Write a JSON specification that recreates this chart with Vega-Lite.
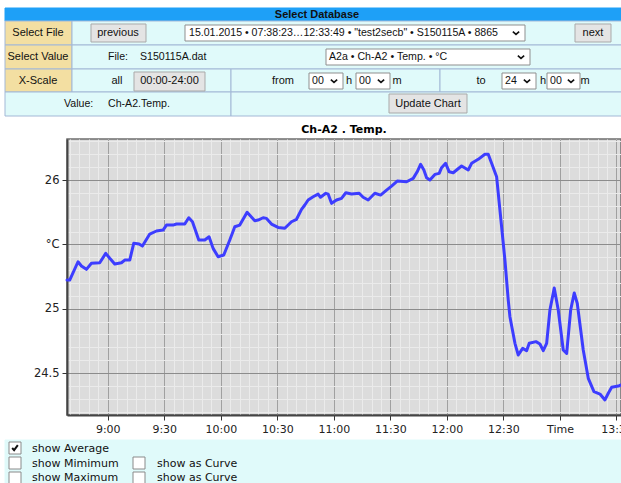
{
  "$schema": "https://vega.github.io/schema/vega-lite/v6.json",
  "autosize": {"type": "none"},
  "padding": {"left": 67, "top": 0, "right": 554, "bottom": 483},
  "background": "white",
  "bounds": "flush",
  "spacing": 25,
  "resolve": {"scale": {"fill": "independent", "stroke": "independent", "x": "independent", "y": "independent"}},
  "config": {
    "view": {"stroke": null},
    "text": {"font": "Liberation Sans", "fontSize": 11, "color": "#111", "baseline": "middle"}
  },
  "datasets": {
    "cells": [
      {"kind": "banner", "l": 5, "r": 629, "t": 8, "b": 21},
      {"kind": "label", "l": 5, "r": 72, "t": 21, "b": 45},
      {"kind": "label", "l": 5, "r": 72, "t": 45, "b": 69},
      {"kind": "label", "l": 5, "r": 72, "t": 69, "b": 92},
      {"kind": "cell", "l": 72, "r": 629, "t": 21, "b": 45},
      {"kind": "cell", "l": 72, "r": 629, "t": 45, "b": 69},
      {"kind": "cell", "l": 72, "r": 231, "t": 69, "b": 92},
      {"kind": "cell", "l": 231, "r": 440, "t": 69, "b": 92},
      {"kind": "cell", "l": 440, "r": 629, "t": 69, "b": 92},
      {"kind": "cell", "l": 5, "r": 231, "t": 92, "b": 116},
      {"kind": "cell", "l": 231, "r": 629, "t": 92, "b": 116},
      {"kind": "button", "l": 91, "r": 146, "t": 24, "b": 42},
      {"kind": "select", "l": 185, "r": 525, "t": 25, "b": 41},
      {"kind": "button", "l": 575, "r": 611, "t": 24, "b": 42},
      {"kind": "select", "l": 326, "r": 530, "t": 49, "b": 65},
      {"kind": "button", "l": 134, "r": 205, "t": 72, "b": 91},
      {"kind": "select", "l": 309, "r": 343, "t": 73, "b": 89},
      {"kind": "select", "l": 356, "r": 390, "t": 73, "b": 89},
      {"kind": "select", "l": 502, "r": 536, "t": 73, "b": 89},
      {"kind": "select", "l": 547, "r": 580, "t": 73, "b": 89},
      {"kind": "button", "l": 389, "r": 467, "t": 94, "b": 113}
    ],
    "formText": [
      {"text": "Select Database", "x": 317, "y": 14.5, "role": "bold"},
      {"text": "Select File", "x": 38, "y": 33, "role": "center"},
      {"text": "previous", "x": 118, "y": 33, "role": "center"},
      {"text": "15.01.2015 • 07:38:23…12:33:49 • \"test2secb\" • S150115A • 8865", "x": 189, "y": 33, "role": "left"},
      {"text": "next", "x": 593, "y": 33, "role": "center"},
      {"text": "Select Value", "x": 38, "y": 57, "role": "center"},
      {"text": "File:", "x": 108, "y": 57, "role": "left"},
      {"text": "S150115A.dat", "x": 140, "y": 57, "role": "left"},
      {"text": "A2a • Ch-A2 • Temp. • °C", "x": 329, "y": 57, "role": "left"},
      {"text": "X-Scale", "x": 38, "y": 80.5, "role": "center"},
      {"text": "all", "x": 117, "y": 80.5, "role": "center"},
      {"text": "00:00-24:00", "x": 169.5, "y": 81, "role": "center"},
      {"text": "from", "x": 283, "y": 80.5, "role": "center"},
      {"text": "00", "x": 312, "y": 81, "role": "left"},
      {"text": "h", "x": 349, "y": 80.5, "role": "center"},
      {"text": "00", "x": 359, "y": 81, "role": "left"},
      {"text": "m", "x": 397, "y": 80.5, "role": "center"},
      {"text": "to", "x": 481, "y": 80.5, "role": "center"},
      {"text": "24", "x": 505, "y": 81, "role": "left"},
      {"text": "h", "x": 543, "y": 80.5, "role": "center"},
      {"text": "00", "x": 550, "y": 81, "role": "left"},
      {"text": "m", "x": 585, "y": 80.5, "role": "center"},
      {"text": "Value:", "x": 64, "y": 104, "role": "left"},
      {"text": "Ch-A2.Temp.", "x": 108, "y": 104, "role": "left"},
      {"text": "Update Chart", "x": 428, "y": 104, "role": "center"}
    ],
    "chevrons": [
      {"x": 516, "y": 33}, {"x": 521, "y": 57}, {"x": 334, "y": 81},
      {"x": 381, "y": 81}, {"x": 527, "y": 81}, {"x": 571, "y": 81}
    ],
    "panel": [
      {"kind": "panel", "l": 5, "r": 629, "t": 440, "b": 490},
      {"kind": "box", "l": 9, "r": 21, "t": 442, "b": 454},
      {"kind": "box", "l": 9, "r": 21, "t": 457, "b": 469},
      {"kind": "box", "l": 133, "r": 145, "t": 457, "b": 469},
      {"kind": "box", "l": 9, "r": 21, "t": 472, "b": 484},
      {"kind": "box", "l": 133, "r": 145, "t": 472, "b": 484}
    ],
    "options": [
      {"text": "show Average", "x": 32, "y": 449},
      {"text": "show Mimimum", "x": 32, "y": 463.5},
      {"text": "show as Curve", "x": 157, "y": 463.5},
      {"text": "show Maximum", "x": 32, "y": 478},
      {"text": "show as Curve", "x": 157, "y": 478}
    ],
    "checked": [{"x": 15, "y": 448}],
    "temperature": [
      {"t": "2015-01-15T08:38:23", "v": 25.223},
      {"t": "2015-01-15T08:39:49", "v": 25.223},
      {"t": "2015-01-15T08:44:14", "v": 25.365},
      {"t": "2015-01-15T08:46:02", "v": 25.332},
      {"t": "2015-01-15T08:48:41", "v": 25.306},
      {"t": "2015-01-15T08:51:21", "v": 25.353},
      {"t": "2015-01-15T08:55:45", "v": 25.357},
      {"t": "2015-01-15T08:58:56", "v": 25.430},
      {"t": "2015-01-15T09:01:04", "v": 25.392},
      {"t": "2015-01-15T09:03:43", "v": 25.347},
      {"t": "2015-01-15T09:07:16", "v": 25.357},
      {"t": "2015-01-15T09:09:02", "v": 25.378},
      {"t": "2015-01-15T09:11:41", "v": 25.378},
      {"t": "2015-01-15T09:13:48", "v": 25.508},
      {"t": "2015-01-15T09:16:37", "v": 25.503},
      {"t": "2015-01-15T09:18:25", "v": 25.487},
      {"t": "2015-01-15T09:22:18", "v": 25.580},
      {"t": "2015-01-15T09:25:51", "v": 25.604},
      {"t": "2015-01-15T09:29:22", "v": 25.611},
      {"t": "2015-01-15T09:31:10", "v": 25.650},
      {"t": "2015-01-15T09:34:40", "v": 25.650},
      {"t": "2015-01-15T09:36:29", "v": 25.658},
      {"t": "2015-01-15T09:40:53", "v": 25.658},
      {"t": "2015-01-15T09:43:00", "v": 25.707},
      {"t": "2015-01-15T09:44:58", "v": 25.676},
      {"t": "2015-01-15T09:48:19", "v": 25.534},
      {"t": "2015-01-15T09:51:30", "v": 25.534},
      {"t": "2015-01-15T09:53:47", "v": 25.559},
      {"t": "2015-01-15T09:55:55", "v": 25.469},
      {"t": "2015-01-15T09:58:34", "v": 25.404},
      {"t": "2015-01-15T10:01:35", "v": 25.417},
      {"t": "2015-01-15T10:04:47", "v": 25.534},
      {"t": "2015-01-15T10:07:26", "v": 25.637},
      {"t": "2015-01-15T10:10:05", "v": 25.650},
      {"t": "2015-01-15T10:13:58", "v": 25.749},
      {"t": "2015-01-15T10:18:03", "v": 25.684},
      {"t": "2015-01-15T10:19:48", "v": 25.689},
      {"t": "2015-01-15T10:22:28", "v": 25.707},
      {"t": "2015-01-15T10:24:16", "v": 25.702},
      {"t": "2015-01-15T10:26:55", "v": 25.658},
      {"t": "2015-01-15T10:30:25", "v": 25.632},
      {"t": "2015-01-15T10:33:59", "v": 25.625},
      {"t": "2015-01-15T10:37:32", "v": 25.676},
      {"t": "2015-01-15T10:40:11", "v": 25.695},
      {"t": "2015-01-15T10:42:51", "v": 25.772},
      {"t": "2015-01-15T10:44:36", "v": 25.806},
      {"t": "2015-01-15T10:46:21", "v": 25.845},
      {"t": "2015-01-15T10:49:01", "v": 25.870},
      {"t": "2015-01-15T10:51:40", "v": 25.891},
      {"t": "2015-01-15T10:52:56", "v": 25.866},
      {"t": "2015-01-15T10:55:45", "v": 25.897},
      {"t": "2015-01-15T10:56:58", "v": 25.891},
      {"t": "2015-01-15T10:58:47", "v": 25.819},
      {"t": "2015-01-15T11:01:26", "v": 25.845},
      {"t": "2015-01-15T11:04:05", "v": 25.858},
      {"t": "2015-01-15T11:06:22", "v": 25.901},
      {"t": "2015-01-15T11:09:24", "v": 25.891},
      {"t": "2015-01-15T11:13:26", "v": 25.897},
      {"t": "2015-01-15T11:15:33", "v": 25.866},
      {"t": "2015-01-15T11:18:13", "v": 25.845},
      {"t": "2015-01-15T11:21:46", "v": 25.897},
      {"t": "2015-01-15T11:24:48", "v": 25.883},
      {"t": "2015-01-15T11:27:59", "v": 25.922},
      {"t": "2015-01-15T11:30:38", "v": 25.953},
      {"t": "2015-01-15T11:33:37", "v": 25.992},
      {"t": "2015-01-15T11:38:36", "v": 25.987},
      {"t": "2015-01-15T11:42:07", "v": 26.013},
      {"t": "2015-01-15T11:44:14", "v": 26.064},
      {"t": "2015-01-15T11:46:02", "v": 26.122},
      {"t": "2015-01-15T11:47:47", "v": 26.078},
      {"t": "2015-01-15T11:49:13", "v": 26.018},
      {"t": "2015-01-15T11:50:58", "v": 26.000},
      {"t": "2015-01-15T11:53:38", "v": 26.044},
      {"t": "2015-01-15T11:55:55", "v": 26.052},
      {"t": "2015-01-15T11:57:11", "v": 26.096},
      {"t": "2015-01-15T11:59:19", "v": 26.130},
      {"t": "2015-01-15T12:01:13", "v": 26.064},
      {"t": "2015-01-15T12:03:21", "v": 26.057},
      {"t": "2015-01-15T12:05:09", "v": 26.078},
      {"t": "2015-01-15T12:07:48", "v": 26.109},
      {"t": "2015-01-15T12:11:19", "v": 26.078},
      {"t": "2015-01-15T12:13:07", "v": 26.130},
      {"t": "2015-01-15T12:16:37", "v": 26.161},
      {"t": "2015-01-15T12:20:11", "v": 26.200},
      {"t": "2015-01-15T12:21:56", "v": 26.200},
      {"t": "2015-01-15T12:23:44", "v": 26.130},
      {"t": "2015-01-15T12:26:23", "v": 26.026},
      {"t": "2015-01-15T12:27:37", "v": 25.845},
      {"t": "2015-01-15T12:29:02", "v": 25.637},
      {"t": "2015-01-15T12:30:48", "v": 25.378},
      {"t": "2015-01-15T12:32:33", "v": 25.068},
      {"t": "2015-01-15T12:33:27", "v": 24.938},
      {"t": "2015-01-15T12:36:07", "v": 24.731},
      {"t": "2015-01-15T12:37:52", "v": 24.640},
      {"t": "2015-01-15T12:40:12", "v": 24.692},
      {"t": "2015-01-15T12:42:19", "v": 24.674},
      {"t": "2015-01-15T12:43:42", "v": 24.731},
      {"t": "2015-01-15T12:47:16", "v": 24.744},
      {"t": "2015-01-15T12:49:23", "v": 24.726},
      {"t": "2015-01-15T12:51:08", "v": 24.674},
      {"t": "2015-01-15T12:52:56", "v": 24.731},
      {"t": "2015-01-15T12:54:41", "v": 24.990},
      {"t": "2015-01-15T12:56:58", "v": 25.161},
      {"t": "2015-01-15T12:59:06", "v": 24.990},
      {"t": "2015-01-15T13:01:45", "v": 24.679},
      {"t": "2015-01-15T13:03:34", "v": 24.653},
      {"t": "2015-01-15T13:05:41", "v": 24.990},
      {"t": "2015-01-15T13:07:35", "v": 25.122},
      {"t": "2015-01-15T13:09:11", "v": 25.042},
      {"t": "2015-01-15T13:12:22", "v": 24.679},
      {"t": "2015-01-15T13:15:02", "v": 24.459},
      {"t": "2015-01-15T13:18:03", "v": 24.355},
      {"t": "2015-01-15T13:21:14", "v": 24.337},
      {"t": "2015-01-15T13:23:53", "v": 24.291},
      {"t": "2015-01-15T13:25:39", "v": 24.343},
      {"t": "2015-01-15T13:27:27", "v": 24.389},
      {"t": "2015-01-15T13:30:58", "v": 24.399},
      {"t": "2015-01-15T13:32:24", "v": 24.407}
    ]
  },
  "vconcat": [
    {
      "width": 554,
      "height": 114,
      "layer": [
        {
          "data": {"name": "cells"},
          "mark": {"type": "rect", "strokeWidth": 1},
          "encoding": {
            "x": {"field": "l", "type": "quantitative", "scale": {"domain": [67, 621], "nice": false, "zero": false}, "axis": null},
            "x2": {"field": "r"},
            "y": {"field": "t", "type": "quantitative", "scale": {"domain": [0, 114], "reverse": true, "nice": false, "zero": false}, "axis": null},
            "y2": {"field": "b"},
            "fill": {"field": "kind", "type": "nominal", "legend": null,
              "scale": {"domain": ["banner", "label", "cell", "button", "select"], "range": ["#1ea0f7", "#f3dfa2", "#e0fafa", "#e4e4e4", "#ffffff"]}},
            "stroke": {"field": "kind", "type": "nominal", "legend": null,
              "scale": {"domain": ["banner", "label", "cell", "button", "select"], "range": ["#1ea0f7", "#a3b8d6", "#a3b8d6", "#a9a9a9", "#8f8f8f"]}}
          }
        },
        {
          "data": {"name": "formText"},
          "transform": [{"filter": "datum.role == 'bold'"}],
          "mark": {"type": "text", "fontWeight": "bold", "fontSize": 11, "align": "center"},
          "encoding": {
            "x": {"field": "x", "type": "quantitative"},
            "y": {"field": "y", "type": "quantitative"},
            "text": {"field": "text"}
          }
        },
        {
          "data": {"name": "formText"},
          "transform": [{"filter": "datum.role == 'center'"}],
          "mark": {"type": "text", "align": "center"},
          "encoding": {
            "x": {"field": "x", "type": "quantitative"},
            "y": {"field": "y", "type": "quantitative"},
            "text": {"field": "text"}
          }
        },
        {
          "data": {"name": "formText"},
          "transform": [{"filter": "datum.role == 'left'"}],
          "mark": {"type": "text", "align": "left", "fontSize": 10.6},
          "encoding": {
            "x": {"field": "x", "type": "quantitative"},
            "y": {"field": "y", "type": "quantitative"},
            "text": {"field": "text"}
          }
        },
        {
          "data": {"name": "chevrons"},
          "mark": {"type": "point", "shape": "M-1,-0.45L0,0.45L1,-0.45", "filled": false, "size": 40, "stroke": "#111", "strokeWidth": 1.6, "opacity": 1},
          "encoding": {
            "x": {"field": "x", "type": "quantitative"},
            "y": {"field": "y", "type": "quantitative"}
          }
        }
      ]
    },
    {
      "width": 554,
      "height": 276,
      "title": {"text": "Ch-A2 . Temp.", "anchor": "middle", "font": "DejaVu Sans", "fontSize": 11, "fontWeight": "bold", "color": "#000", "offset": 4},
      "view": {"fill": "#dcdcdc", "stroke": "#6e6e6e", "strokeWidth": 1.5},
      "data": {"name": "temperature"},
      "layer": [
        {
          "mark": {"type": "line", "strokeOpacity": 0},
          "encoding": {
            "x": {"field": "t", "type": "temporal",
              "scale": {"domain": [{"year": 2015, "month": 1, "date": 15, "hours": 8, "minutes": 38, "seconds": 23}, {"year": 2015, "month": 1, "date": 15, "hours": 13, "minutes": 32, "seconds": 24}], "nice": false},
              "axis": {"orient": "top", "title": null, "labels": false, "ticks": false, "domain": false, "grid": true, "gridColor": "#ebebeb", "gridWidth": 1, "tickCount": 59}},
            "y": {"field": "v", "type": "quantitative",
              "scale": {"domain": [24.174, 26.319], "nice": false, "zero": false},
              "axis": {"orient": "right", "title": null, "labels": false, "ticks": false, "domain": false, "grid": true, "gridColor": "#ebebeb", "gridWidth": 1,
                "values": [24.2, 24.3, 24.4, 24.6, 24.7, 24.8, 24.9, 25.1, 25.2, 25.3, 25.4, 25.6, 25.7, 25.8, 25.9, 26.1, 26.2, 26.3]}}
          }
        },
        {
          "mark": {"type": "line", "color": "#3d3dff", "strokeWidth": 3, "strokeJoin": "round", "strokeCap": "round"},
          "encoding": {
            "x": {"field": "t", "type": "temporal",
              "axis": {"orient": "bottom", "title": null, "grid": true, "gridColor": "#a0a0a0", "gridWidth": 1,
                "tickCount": 10, "format": "%-H:%M",
                "labelExpr": "hours(datum.value) == 13 && minutes(datum.value) == 0 ? 'Time' : datum.label",
                "labelFont": "DejaVu Sans", "labelFontSize": 11, "labelColor": "#222", "labelPadding": 3,
                "tickColor": "#333", "tickSize": 5, "domainColor": "#444", "domainWidth": 2, "labelFlush": false, "labelOverlap": false}},
            "y": {"field": "v", "type": "quantitative",
              "axis": {"orient": "left", "title": null, "grid": true, "gridColor": "#8c8c8c", "gridWidth": 1,
                "values": [24.5, 25, 25.5, 26], "format": "~g",
                "labelExpr": "datum.value == 25.5 ? '°C' : datum.label",
                "labelFont": "DejaVu Sans", "labelFontSize": 11.5, "labelColor": "#222", "labelPadding": 3,
                "tickColor": "#333", "tickSize": 5, "domainColor": "#444", "domainWidth": 2}}
          }
        }
      ]
    },
    {
      "width": 554,
      "height": 43,
      "layer": [
        {
          "data": {"name": "panel"},
          "mark": {"type": "rect", "strokeWidth": 1},
          "encoding": {
            "x": {"field": "l", "type": "quantitative", "scale": {"domain": [67, 621], "nice": false, "zero": false}, "axis": null},
            "x2": {"field": "r"},
            "y": {"field": "t", "type": "quantitative", "scale": {"domain": [440, 483], "reverse": true, "nice": false, "zero": false}, "axis": null},
            "y2": {"field": "b"},
            "fill": {"field": "kind", "type": "nominal", "legend": null,
              "scale": {"domain": ["panel", "box"], "range": ["#e0fafa", "#ffffff"]}},
            "stroke": {"field": "kind", "type": "nominal", "legend": null,
              "scale": {"domain": ["panel", "box"], "range": ["#e0fafa", "#8a8a8a"]}}
          }
        },
        {
          "data": {"name": "checked"},
          "mark": {"type": "point", "shape": "M-0.8,0L-0.25,0.6L0.8,-0.8", "filled": false, "size": 50, "stroke": "#111", "strokeWidth": 2, "opacity": 1},
          "encoding": {
            "x": {"field": "x", "type": "quantitative"},
            "y": {"field": "y", "type": "quantitative"}
          }
        },
        {
          "data": {"name": "options"},
          "mark": {"type": "text", "align": "left", "font": "DejaVu Sans", "fontSize": 11},
          "encoding": {
            "x": {"field": "x", "type": "quantitative"},
            "y": {"field": "y", "type": "quantitative"},
            "text": {"field": "text"}
          }
        }
      ]
    }
  ]
}
